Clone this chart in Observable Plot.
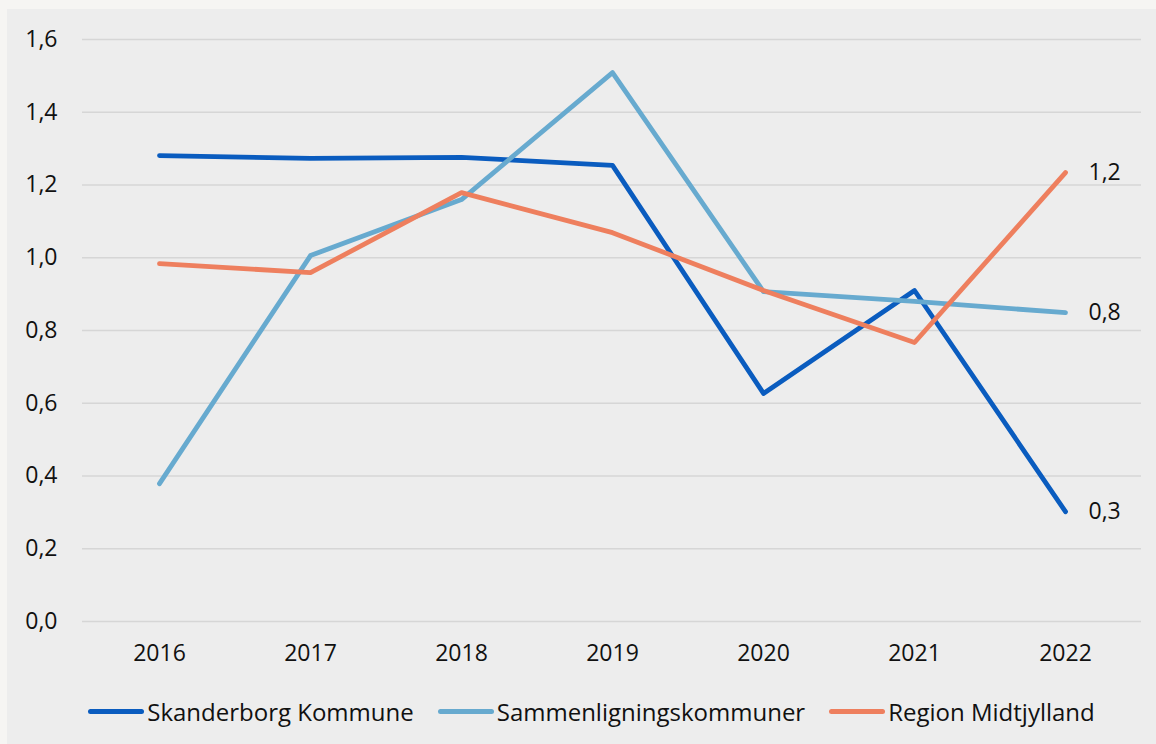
<!DOCTYPE html>
<html>
<head>
<meta charset="utf-8">
<script src="https://cdn.jsdelivr.net/npm/d3@7"></script>
<script src="https://cdn.jsdelivr.net/npm/@observablehq/plot@0.6"></script>
<style>
  html, body { margin: 0; padding: 0; background: #f6f5f3; width: 1156px; height: 744px; overflow: hidden; }
  #panel { position: absolute; left: 7px; top: 9px; width: 1149px; height: 735px; background: #ededed; font-family: "Open Sans", sans-serif; }
  #chart { position: absolute; left: 0; top: 0; }
  #legend { position: absolute; left: 10px; width: 1149px; top: 686px; display: flex; justify-content: center; align-items: center; font-size: 24px; color: #111; }
  .item { display: flex; align-items: center; margin: 0 12px; }
  .swatch { width: 56px; height: 5px; border-radius: 3px; margin-right: 3px; }
</style>
</head>
<body>
<div id="panel">
  <div id="chart"></div>
  <div id="legend"></div>
</div>
<script>
const years = [2016, 2017, 2018, 2019, 2020, 2021, 2022];
const seriesNames = ["Skanderborg Kommune", "Sammenligningskommuner", "Region Midtjylland"];
const seriesColors = ["#0a5cbf", "#67aacf", "#ee7f5e"];
const skanderborg = [1.281, 1.273, 1.276, 1.254, 0.627, 0.910, 0.302];
const sammenligning = [0.379, 1.006, 1.160, 1.509, 0.907, 0.880, 0.849];
const region = [0.984, 0.959, 1.179, 1.069, 0.910, 0.767, 1.234];
const yTicks = [0, 0.2, 0.4, 0.6, 0.8, 1.0, 1.2, 1.4, 1.6];

const allSeries = [skanderborg, sammenligning, region];
const data = [];
allSeries.forEach((vals, i) => {
  vals.forEach((v, j) => data.push({ series: seriesNames[i], year: years[j], value: v }));
});
const last = data.filter(d => d.year === years[years.length - 1]);
const fmt = d => d.toFixed(1).replace(".", ",");

const chart = Plot.plot({
  width: 1149,
  height: 660,
  marginLeft: 75,
  marginRight: 15,
  marginTop: 30,
  marginBottom: 48,
  style: { background: "transparent", fontFamily: "Open Sans", fontSize: "23px", color: "#111", overflow: "visible" },
  x: { type: "point", domain: years, padding: 0.5, label: null },
  y: { domain: [0, 1.6], label: null },
  color: { domain: seriesNames, range: seriesColors },
  marks: [
    Plot.gridY(yTicks, { stroke: "#d6d6d6", strokeOpacity: 1, strokeWidth: 1.5 }),
    Plot.axisY(yTicks, { tickSize: 0, tickPadding: 25, tickFormat: fmt, label: null }),
    Plot.axisX({ tickSize: 0, tickPadding: 23, tickFormat: d => String(d), label: null }),
    Plot.line(data, { x: "year", y: "value", z: "series", stroke: "series", strokeWidth: 4.8, strokeLinecap: "round", strokeLinejoin: "round" }),
    Plot.text(last, { x: "year", y: "value", text: d => fmt(d.value), dx: 23, textAnchor: "start", fontSize: 23, fill: "#111" })
  ]
});
document.getElementById("chart").appendChild(chart);

const legend = document.getElementById("legend");
seriesNames.forEach((name, i) => {
  const item = document.createElement("div");
  item.className = "item";
  const sw = document.createElement("div");
  sw.className = "swatch";
  sw.style.background = seriesColors[i];
  const label = document.createElement("span");
  label.textContent = name;
  item.appendChild(sw);
  item.appendChild(label);
  legend.appendChild(item);
});
</script>
</body>
</html>
